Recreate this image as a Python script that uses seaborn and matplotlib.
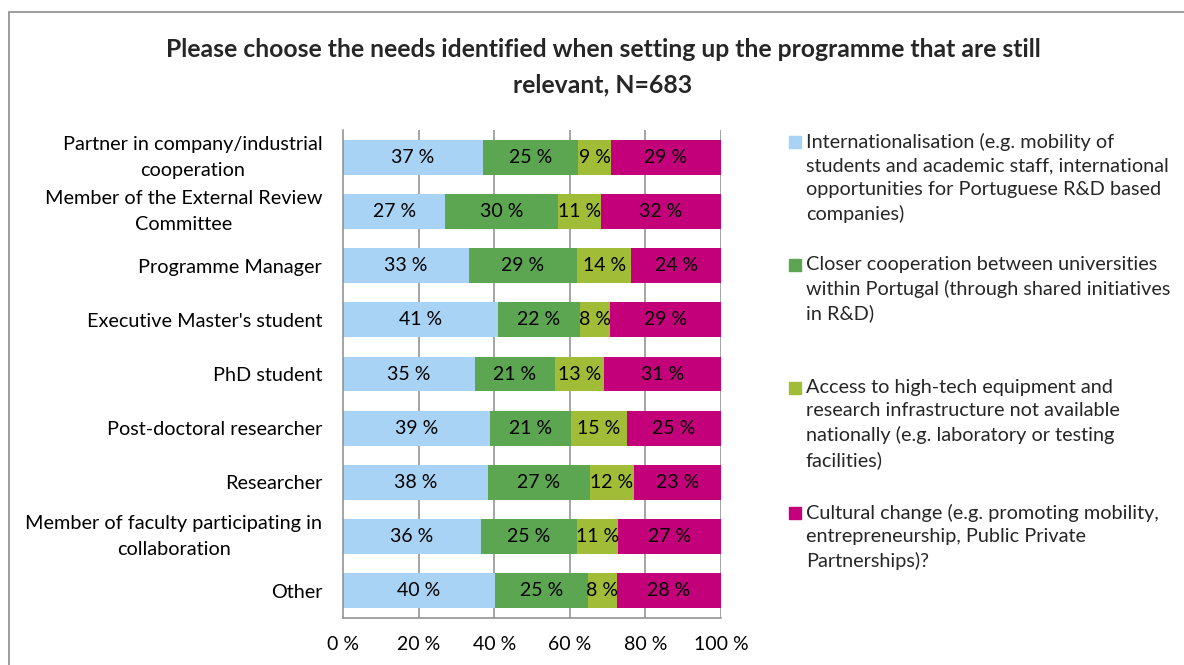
import matplotlib
matplotlib.use("Agg")
import matplotlib.pyplot as plt
import seaborn as sns
import numpy as np
import pandas as pd
from matplotlib.patches import Rectangle

categories = [
    "Partner in company/industrial\ncooperation",
    "Member of the External Review\nCommittee",
    "Programme Manager",
    "Executive Master's student",
    "PhD student",
    "Post-doctoral researcher",
    "Researcher",
    "Member of faculty participating in\ncollaboration",
    "Other",
]
internationalisation = [37.0, 27.1, 33.3, 41.0, 34.9, 38.9, 38.4, 36.4, 40.2]
cooperation = [25.2, 29.8, 28.6, 21.7, 21.2, 21.4, 26.9, 25.4, 24.6]
equipment = [8.7, 11.3, 14.4, 7.9, 12.9, 14.8, 11.6, 10.9, 7.6]
cultural = [29.1, 31.8, 23.7, 29.4, 31.0, 24.9, 23.1, 27.3, 27.6]

series_labels = [
    "Internationalisation (e.g. mobility of\nstudents and academic staff, international\nopportunities for Portuguese R&D based\ncompanies)",
    "Closer cooperation between universities\nwithin Portugal (through shared initiatives\nin R&D)",
    "Access to high-tech equipment and\nresearch infrastructure not available\nnationally (e.g. laboratory or testing\nfacilities)",
    "Cultural change (e.g. promoting mobility,\nentrepreneurship, Public Private\nPartnerships)?",
]
colors = ["#A9D3F4", "#5CA551", "#A1BD38", "#C3007A"]
xticks = [0, 20, 40, 60, 80, 100]
title = "Please choose the needs identified when setting up the programme that are still\nrelevant, N=683"

sns.set_theme(style="white")
plt.rcParams["font.family"] = ["Lato", "DejaVu Sans"]

W, H = 1184, 665
fig = plt.figure(figsize=(W / 100, H / 100), dpi=100)
ax = fig.add_axes([343 / W, 1 - 618 / H, (721 - 343) / W, (618 - 130) / H])

series = [internationalisation, cooperation, equipment, cultural]
vals = np.array(series)
cum = np.cumsum(vals, axis=0)
lefts = cum - vals

for i in range(3, -1, -1):
    df = pd.DataFrame({"cat": categories, "val": cum[i]})
    sns.barplot(data=df, x="val", y="cat", color=colors[i], orient="h",
                width=0.645, ax=ax, saturation=1, zorder=2, edgecolor="none")

for i in range(4):
    for j in range(len(categories)):
        ax.text(lefts[i, j] + vals[i, j] / 2, j, f"{round(vals[i, j]):.0f} %",
                ha="center", va="center", fontsize=14, color="black", zorder=3)

ax.set_xlim(0, 100)
ax.set_ylim(len(categories) - 0.5, -0.5)
ax.set_xticks(xticks)
ax.set_xticklabels([f"{t} %" for t in xticks])
ax.set_xlabel("")
ax.set_ylabel("")
for t in xticks[1:]:
    ax.axvline(t, color="#8C8C8C", lw=1.1, zorder=1)
for s in ["top", "right"]:
    ax.spines[s].set_visible(False)
for s in ["left", "bottom"]:
    ax.spines[s].set_color("#8C8C8C")
    ax.spines[s].set_linewidth(1.1)
ax.tick_params(axis="x", length=0, pad=13, labelsize=14, colors="black")
ax.tick_params(axis="y", length=0, pad=15, labelsize=14.3, colors="black")
for lab in ax.get_yticklabels():
    lab.set_multialignment("center")
    lab.set_linespacing(1.65)
    if "\n" in lab.get_text():
        lab.set_va("center")

fig.text(603 / W, 1 - 67 / H, title, ha="center", va="center", fontsize=17.8,
         fontweight="bold", linespacing=1.68)

# legend
leg_tops = [133, 256, 379, 504]
for i in range(4):
    y0 = leg_tops[i]
    fig.patches.append(Rectangle((789 / W, 1 - (y0 + 15) / H), 12 / W, 12 / H,
                                 transform=fig.transFigure, color=colors[i]))
    fig.text(806 / W, 1 - y0 / H, series_labels[i], ha="left", va="top",
             fontsize=14.3, linespacing=1.45)

# outer frame
fig.patches.append(Rectangle((9 / W, -0.1), 1.2, 1.1 - 12 / H, transform=fig.transFigure,
                             fill=False, edgecolor="#8C8C8C", lw=1.2))

fig.savefig("out.png", dpi=100)
